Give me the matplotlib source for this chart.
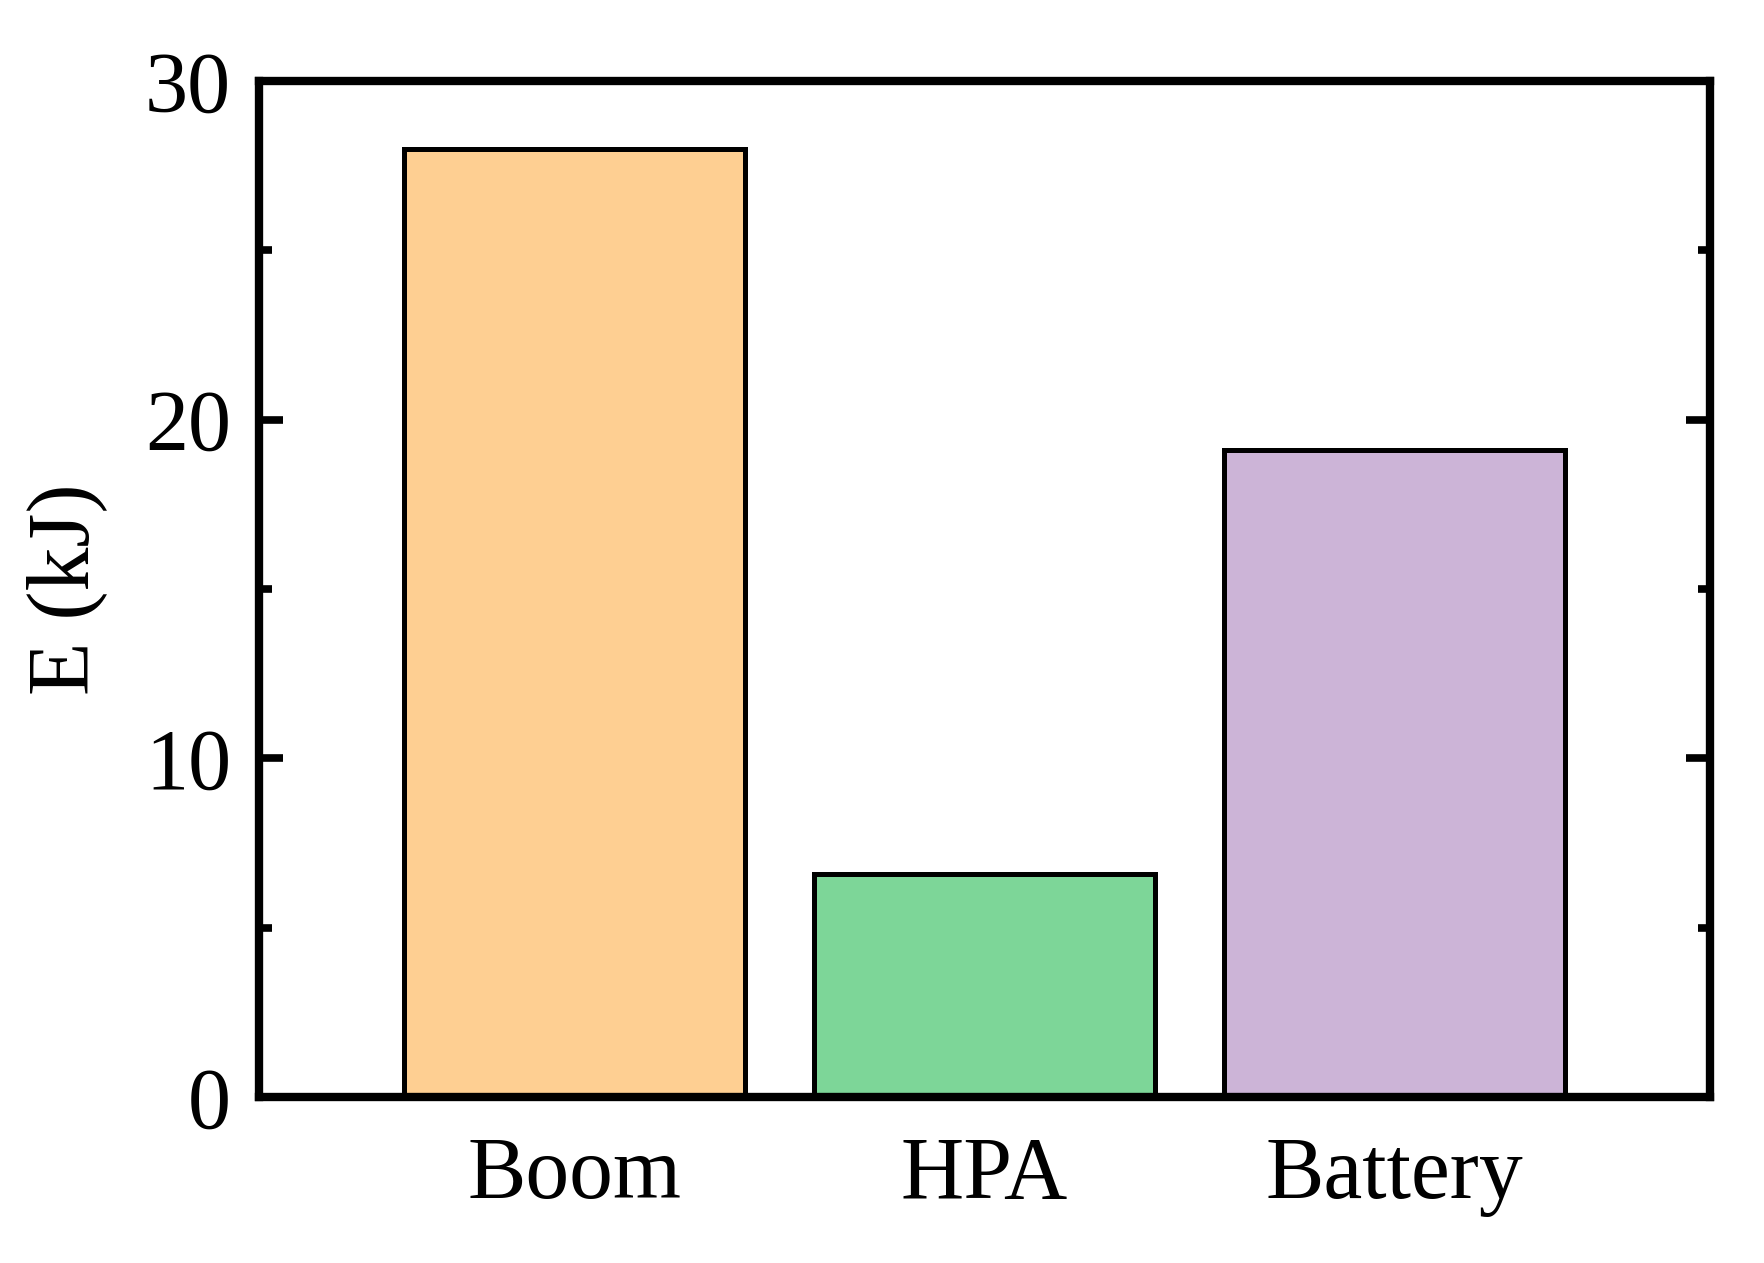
import numpy as np
import matplotlib
matplotlib.use('Agg')
import matplotlib.pyplot as plt
from matplotlib.ticker import MultipleLocator

plt.rcParams['font.family'] = ['Liberation Serif', 'DejaVu Serif']

categories = ['Boom', 'HPA', 'Battery']
energy = [28.0, 6.6, 19.1]   # kJ
colors = ['#FECF92', '#7DD698', '#CCB4D7']

fig = plt.figure(figsize=(17.64, 12.63), dpi=100)
ax = fig.add_axes([0.1468, 0.1314, 0.8226, 0.8045])

x = np.arange(len(categories))
ax.bar(x, energy, width=0.83, color=colors, edgecolor='black', linewidth=3.6, zorder=2)

ax.set_xlim(-0.77, 2.77)
ax.set_ylim(0, 30)
ax.set_xticks(x)
ax.set_xticklabels(categories, fontsize=63)
ax.tick_params(axis='x', length=0, pad=28)

ax.yaxis.set_major_locator(MultipleLocator(10))
ax.yaxis.set_minor_locator(MultipleLocator(5))
ax.tick_params(axis='y', which='major', direction='in', length=17, width=5.5,
               labelsize=62, pad=20, left=True, right=True)
ax.tick_params(axis='y', which='minor', direction='in', length=9, width=5.5,
               left=True, right=True)

for s in ax.spines.values():
    s.set_linewidth(6)

ax.set_ylabel('E (kJ)', fontsize=63)
ax.yaxis.set_label_coords(-0.105, 0.5)

plt.savefig('out.png', dpi=100)
